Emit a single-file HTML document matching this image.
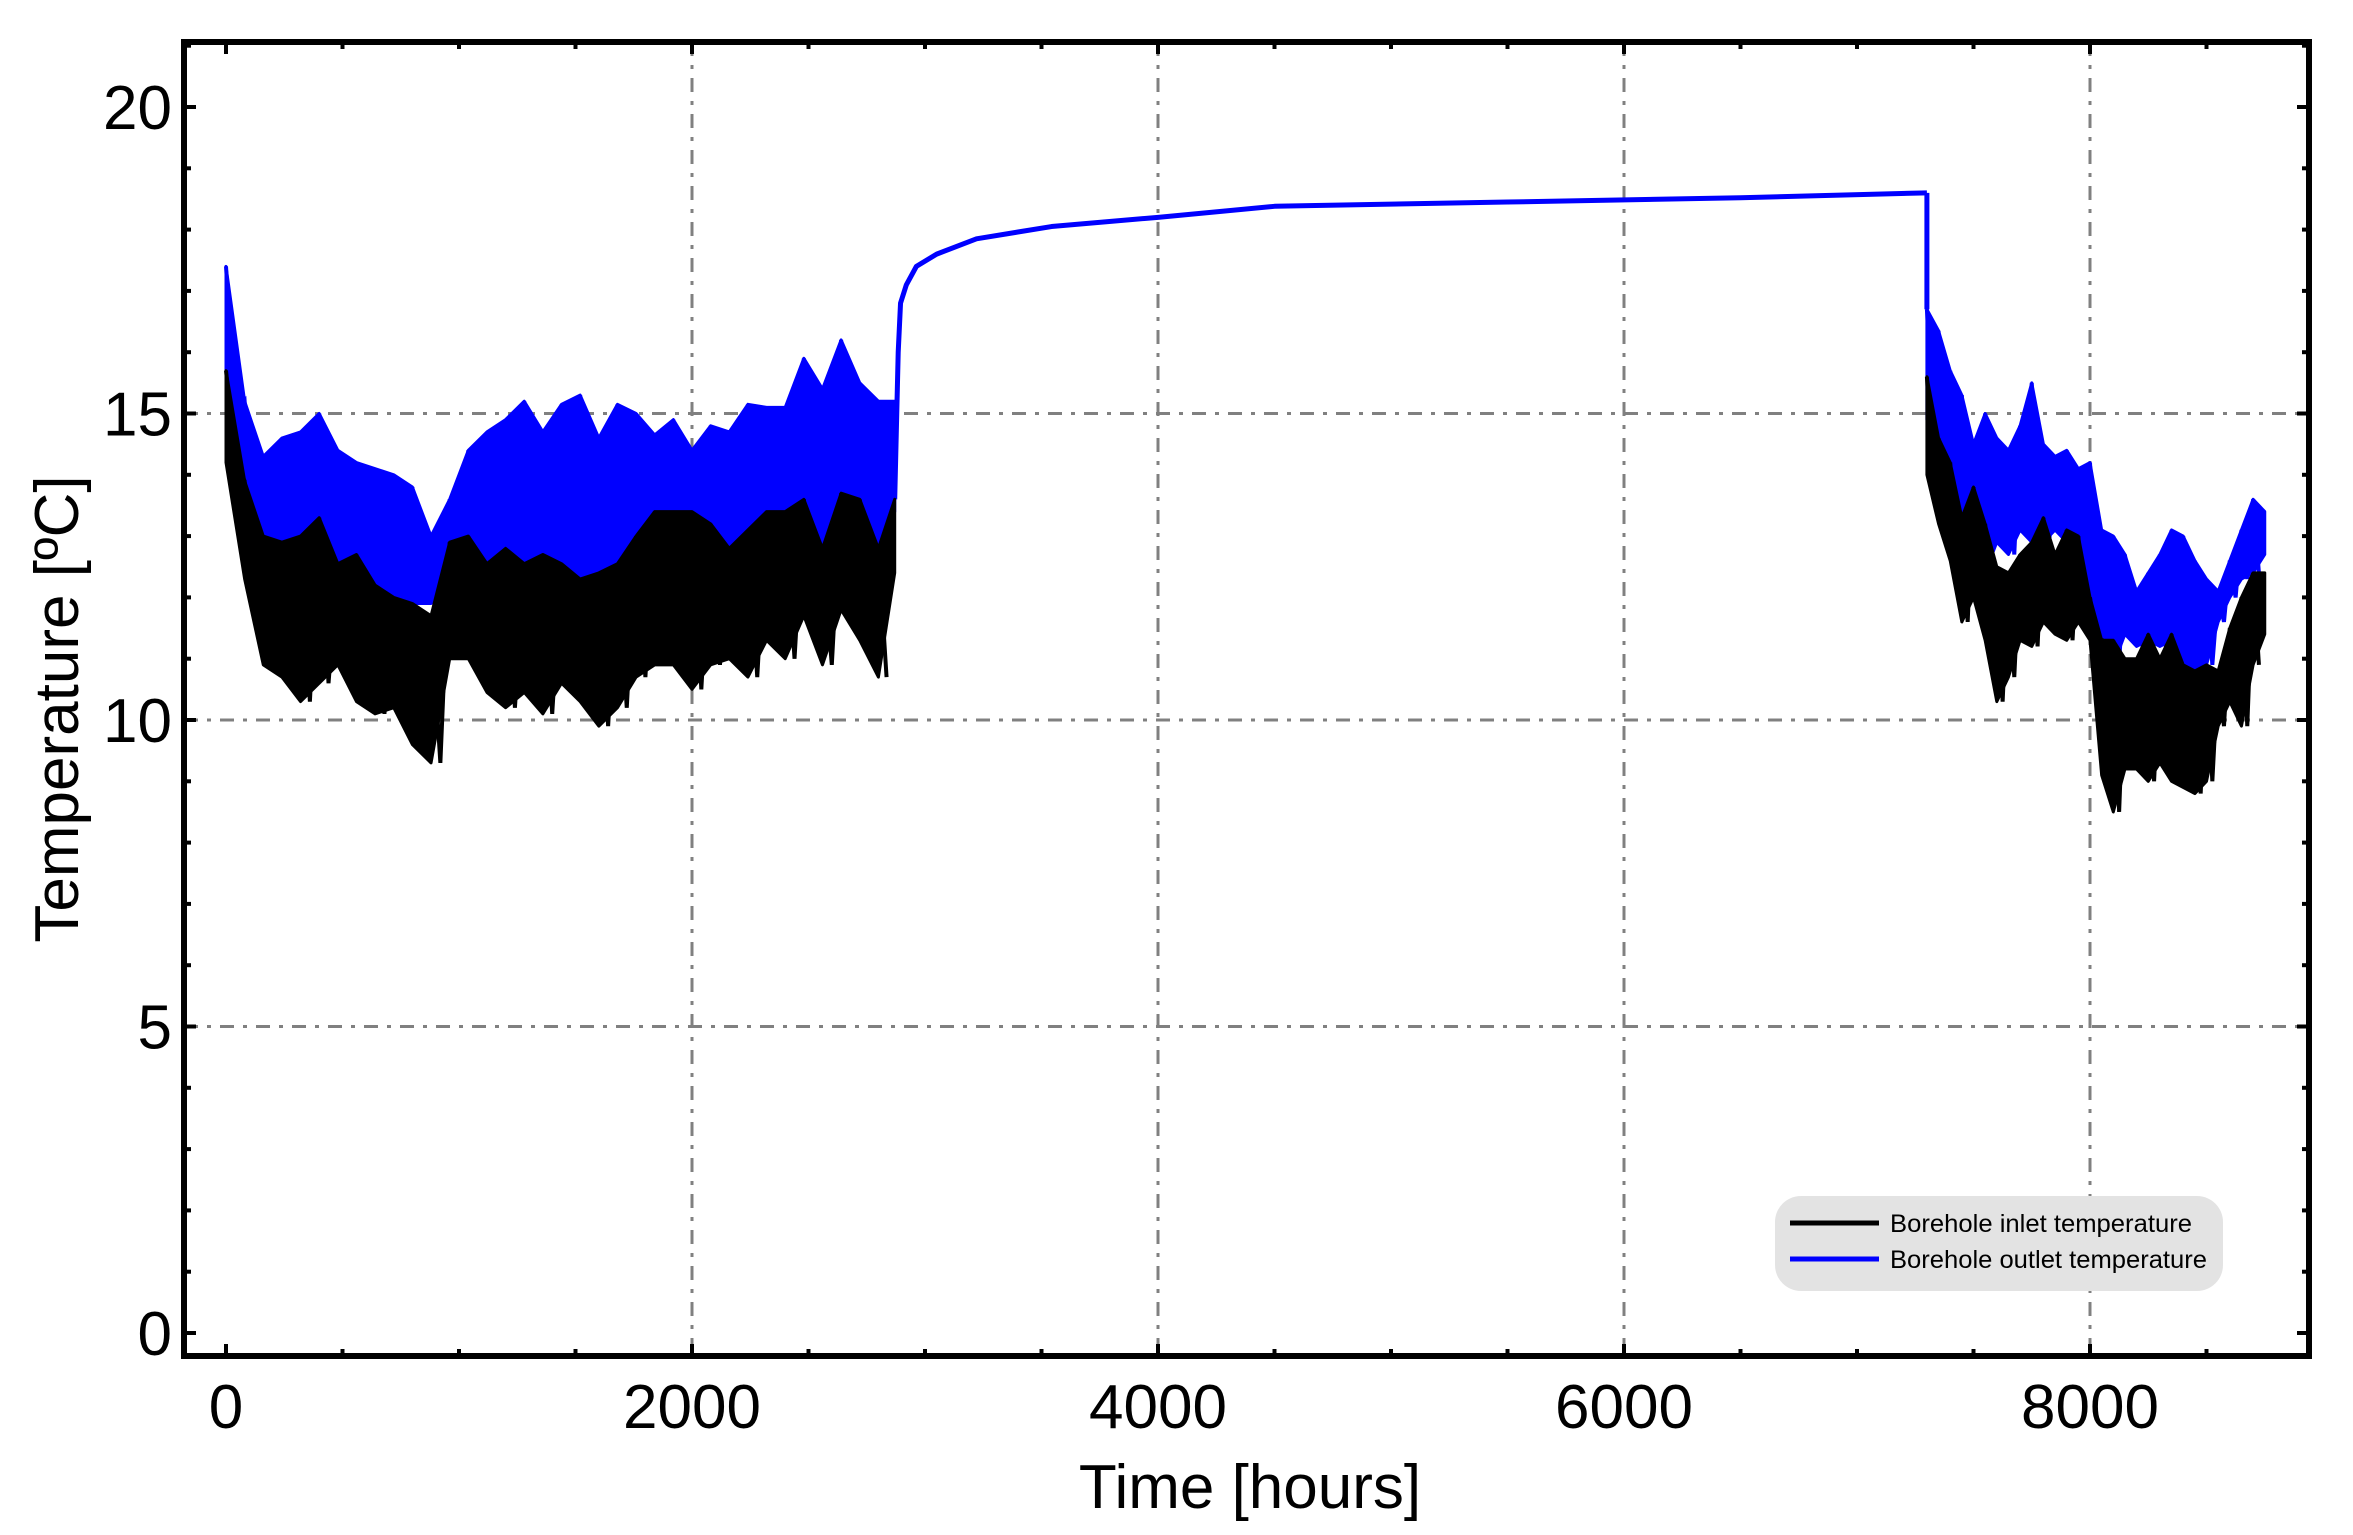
<!DOCTYPE html>
<html><head><meta charset="utf-8"><title>Borehole temperatures</title>
<style>html,body{margin:0;padding:0;background:#fff;}svg{display:block;font-family:"Liberation Sans",Arial,sans-serif;}</style>
</head><body>
<svg id="chart" xmlns="http://www.w3.org/2000/svg" width="2353" height="1535" viewBox="0 0 2353 1535">
<rect x="0" y="0" width="2353" height="1535" fill="#fff"/>
<g id="grid"></g>
<g id="series"></g>
<g id="axes"></g>
<rect x="184" y="42" width="2125" height="1314" fill="none" stroke="#000" stroke-width="6"/>
<text x="1250" y="1508" font-size="62" text-anchor="middle">Time [hours]</text>
<text x="78" y="709" font-size="62" text-anchor="middle" transform="rotate(-90 78 709)">Temperature [ºC]</text>
<g>
<rect x="1775" y="1196" width="448" height="95" rx="26" fill="#e3e3e3"/>
<line x1="1790" y1="1223" x2="1879" y2="1223" stroke="#000" stroke-width="5"/>
<text x="1890" y="1232" font-size="25" textLength="302" lengthAdjust="spacingAndGlyphs">Borehole inlet temperature</text>
<line x1="1790" y1="1259" x2="1879" y2="1259" stroke="#0000ff" stroke-width="5"/>
<text x="1890" y="1268" font-size="25" textLength="317" lengthAdjust="spacingAndGlyphs">Borehole outlet temperature</text>
</g>
</svg>
<script>
// ---- data ----
const xTicks = [0, 2000, 4000, 6000, 8000];
const yTicks = [0, 5, 10, 15, 20];
const xGrid = [2000, 4000, 6000, 8000];
const yGrid = [5, 10, 15];
// segment 1 (heating season start)
const t1 = [0,80,160,240,320,400,480,560,640,720,800,880,960,1040,1120,1200,1280,1360,1440,1520,1600,1680,1760,1840,1920,2000,2080,2160,2240,2320,2400,2480,2560,2640,2720,2800,2870];
const outHi1 = [17.4,15.2,14.3,14.6,14.7,15.0,14.4,14.2,14.1,14.0,13.8,13.0,13.6,14.4,14.7,14.9,15.2,14.7,15.15,15.3,14.6,15.15,15.0,14.65,14.9,14.4,14.8,14.7,15.15,15.1,15.1,15.9,15.4,16.2,15.5,15.2,15.2];
const outLo1 = [15.0,13.0,12.55,12.3,12.3,12.55,12.1,12.0,11.4,12.05,11.9,11.9,12.1,12.4,11.9,11.7,12.0,11.7,11.9,12.05,12.1,12.2,12.5,12.4,12.3,12.55,12.2,12.1,12.4,12.55,12.7,12.9,12.6,12.8,12.8,12.5,13.4];
const inHi1 = [15.7,13.9,13.0,12.9,13.0,13.3,12.55,12.7,12.2,12.0,11.9,11.7,12.9,13.0,12.55,12.8,12.55,12.7,12.55,12.3,12.4,12.55,13.0,13.4,13.4,13.4,13.2,12.8,13.1,13.4,13.4,13.6,12.8,13.7,13.6,12.8,13.6];
const inLo1 = [14.2,12.3,10.9,10.7,10.3,10.6,10.9,10.3,10.1,10.2,9.6,9.3,11.0,11.0,10.45,10.2,10.45,10.1,10.6,10.3,9.9,10.2,10.7,10.9,10.9,10.5,10.9,11.0,10.7,11.3,11.0,11.7,10.9,11.8,11.3,10.7,12.4];
// recovery period (outlet only)
const tRec = [2870,2880,2885,2895,2920,2963,3050,3221,3543,4000,4500,5500,6500,7300];
const outRec = [13.6,15.2,16.0,16.8,17.1,17.4,17.6,17.85,18.05,18.2,18.38,18.45,18.52,18.6];
// segment 2
const t2 = [7300,7350,7400,7450,7500,7550,7600,7650,7700,7750,7800,7850,7900,7950,8000,8050,8100,8150,8200,8250,8300,8350,8400,8450,8500,8550,8600,8650,8700,8750];
const outHi2 = [16.7,16.35,15.7,15.3,14.5,15.0,14.6,14.4,14.8,15.5,14.5,14.3,14.4,14.1,14.2,13.1,13.0,12.7,12.1,12.4,12.7,13.1,13.0,12.6,12.3,12.1,12.6,13.1,13.6,13.4];
const outLo2 = [14.9,13.8,13.4,13.2,12.7,12.4,12.9,12.7,13.1,12.9,12.9,13.1,12.9,13.0,12.0,11.3,10.9,11.4,11.2,11.3,11.2,11.3,10.9,10.8,10.9,11.6,12.0,12.3,12.4,12.7];
const inHi2 = [15.6,14.6,14.2,13.3,13.8,13.2,12.5,12.4,12.7,12.9,13.3,12.7,13.1,13.0,12.0,11.3,11.3,11.0,11.0,11.4,11.0,11.4,10.9,10.8,10.9,10.8,11.5,12.0,12.4,12.4];
const inLo2 = [14.0,13.2,12.6,11.6,12.0,11.3,10.3,10.7,11.3,11.2,11.6,11.4,11.3,11.6,11.3,9.1,8.5,9.2,9.2,9.0,9.3,9.0,8.9,8.8,9.0,9.9,10.3,9.9,10.9,11.4];

// ---- axes ----
const X0 = 226, XS = 0.2330, Y0 = 1333, YS = 61.3;
const L = 184, R = 2309, T = 42, B = 1356;
function xPos(t){ return X0 + t*XS; }
function yPos(v){ return Y0 - v*YS; }
const NS = 'http://www.w3.org/2000/svg';
function mk(tag, attrs, parent){ const e=document.createElementNS(NS,tag); for(const k in attrs) e.setAttribute(k,attrs[k]); parent.appendChild(e); return e; }
const grid = document.getElementById('grid'), series = document.getElementById('series'), axes = document.getElementById('axes');

xGrid.forEach(t=>{
  const l = mk('line',{x1:xPos(t),x2:xPos(t),y1:T,y2:B,stroke:'#808080','stroke-width':3,'stroke-dasharray':'14 9 4 9'},grid);
  
  
});
yGrid.forEach(v=>{
  const l = mk('line',{x1:L,x2:R,y1:yPos(v),y2:yPos(v),stroke:'#808080','stroke-width':3,'stroke-dasharray':'14 9 4 9'},grid);
  
  
});

for(let t=0;t<=8500;t+=500){
  const len = (t%2000===0)?12:7, x=xPos(t);
  const a = mk('line',{x1:x,x2:x,y1:B,y2:B-len,stroke:'#000','stroke-width':4},axes);
  
  
  const b = mk('line',{x1:x,x2:x,y1:T,y2:T+len,stroke:'#000','stroke-width':4},axes);
  
  
}
for(let v=0;v<=21;v+=1){
  const len = (v%5===0)?12:7, y=yPos(v);
  const a = mk('line',{x1:L,x2:L+len,y1:y,y2:y,stroke:'#000','stroke-width':4},axes);
  
  
  const b = mk('line',{x1:R,x2:R-len,y1:y,y2:y,stroke:'#000','stroke-width':4},axes);
  
  
}
xTicks.forEach(t=>{
  const e = mk('text',{x:xPos(t),y:1428,'font-size':62,'text-anchor':'middle'},axes);
  e.textContent = String(t);
  
  
});
yTicks.forEach(v=>{
  const e = mk('text',{x:172,y:yPos(v)+22,'font-size':62,'text-anchor':'end'},axes);
  e.textContent = String(v);
  
  
});

function band(ts, hi, lo, color, name){
  let pts = [];
  for(let i=0;i<ts.length;i++) pts.push(xPos(ts[i])+','+yPos(hi[i]));
  for(let i=ts.length-1;i>=0;i--) pts.push(xPos(ts[i])+','+yPos(lo[i]));
  const p = mk('polygon',{points:pts.join(' '),fill:color,stroke:color,'stroke-width':3,'stroke-linejoin':'round'},series);
  
  
  let z = [];
  for(let i=0;i<ts.length-1;i++){
    z.push(xPos(ts[i])+','+yPos(hi[i]));
    z.push(xPos((ts[i]+ts[i+1])/2)+','+yPos(lo[i]));
  }
  const zl = mk('polyline',{points:z.join(' '),fill:'none',stroke:color,'stroke-width':4},series);
  
  
}
band(t1, outHi1, outLo1, '#0000ff', 'outlet-band-early');
band(t2, outHi2, outLo2, '#0000ff', 'outlet-band-late');
const rp = tRec.map((t,i)=>xPos(t)+','+yPos(outRec[i])).join(' ');
const rec = mk('polyline',{points:rp,fill:'none',stroke:'#0000ff','stroke-width':5,'stroke-linejoin':'round'},series);


const drop = mk('line',{x1:xPos(7300),x2:xPos(7300),y1:yPos(18.6),y2:yPos(16.7),stroke:'#0000ff','stroke-width':5},series);


band(t1, inHi1, inLo1, '#000000', 'inlet-band-early');
band(t2, inHi2, inLo2, '#000000', 'inlet-band-late');
</script>
</body></html>
